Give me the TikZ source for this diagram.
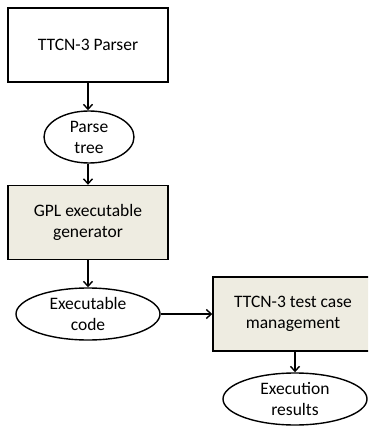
\documentclass[tikz,border=0pt]{standalone}
\usepackage{fontspec}
\setmainfont{Carlito}
\usetikzlibrary{shapes.geometric,arrows.meta}
\definecolor{officetan}{HTML}{EEECE1}

\begin{document}
\begin{tikzpicture}[x=1pt,y=-1pt,line width=1.4pt,font=\fontsize{17.5}{21}\selectfont,
    box/.style={rectangle,draw,minimum width=160pt,minimum height=74pt,align=center},
    data/.style={ellipse,draw,fill=white,inner sep=0pt,minimum width=144pt,minimum height=52pt,align=center},
    >={Straight Barb[length=5pt,width=9pt]}]
    \useasboundingbox (0,0) rectangle (368,427);
    \clip (0,0) rectangle (368,427);
                    \path
                    (88,45) node[box,fill=white](parser) {TTCN-3 Parser}
                    (89,137) node[data,minimum width=90pt](tree) {Parse\\tree}
                    (88,222.5) node[box,fill=officetan](gen) {GPL executable\\generator}
                    (88,314) node[data](code) {Executable\\code}
                    (293,314) node[box,fill=officetan](mgmt) {TTCN-3 test case\\management}
                    (295,399) node[data](results) {Execution\\results};

                    \draw[->] (parser.south) -- (parser.south |- tree.north);
                    \draw[->] (parser.south |- tree.south) -- (gen.north);
                    \draw[->] (gen.south) -- (code.north);
                    \draw[->] (code.east) -- (mgmt.west);
                    \draw[->] (mgmt.south -| results.north) -- (results.north);
                \end{tikzpicture}
\end{document}
